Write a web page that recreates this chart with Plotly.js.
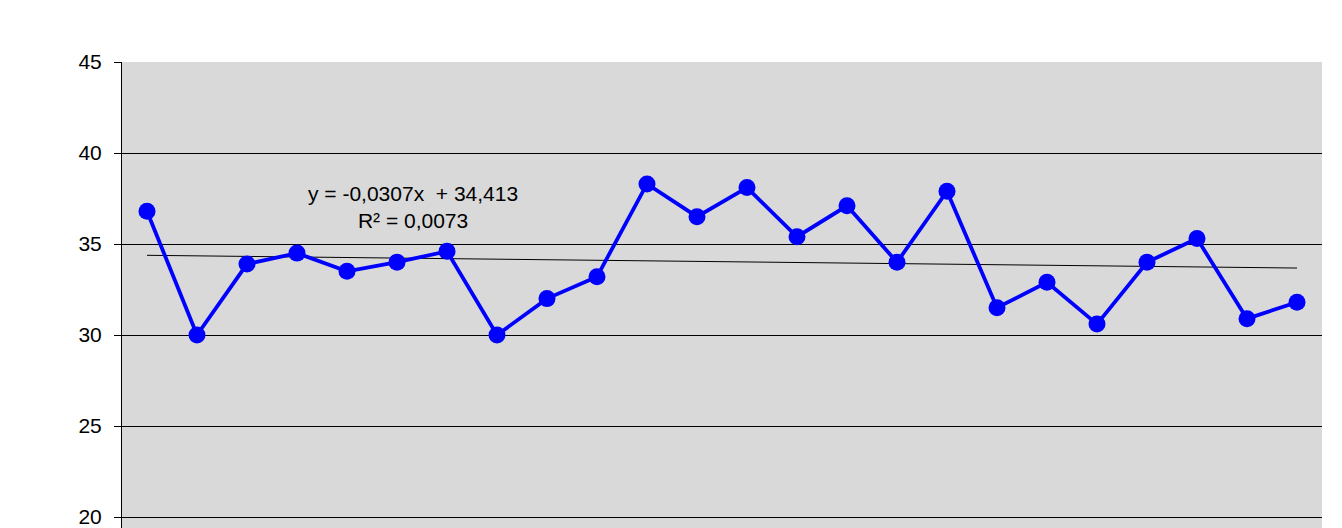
<!DOCTYPE html>
<html>
<head>
<meta charset="utf-8">
<script src="https://cdn.plot.ly/plotly-3.0.1.min.js"></script>
<style>
html,body{margin:0;padding:0;overflow:hidden;background:#fff;}
#chart{width:1342px;height:600px;}
</style>
</head>
<body>
<div id="chart"></div>
<script>
const categories = [1,2,3,4,5,6,7,8,9,10,11,12,13,14,15,16,17,18,19,20,21,22,23,24];
const values = [36.8,30.0,33.9,34.5,33.5,34.0,34.6,30.0,32.0,33.2,38.3,36.5,38.1,35.4,37.1,34.0,37.9,31.5,32.9,30.6,34.0,35.3,30.9,31.8];
const trendX = [1,24];
const trendY = [34.38,33.68];
const yTicks = [20,25,30,35,40,45];
const trendLabel = "y = -0,0307x  + 34,413<br>R² = 0,0073";

const data = [
  {x: trendX, y: trendY, type:'scatter', mode:'lines', line:{color:'#000000', width:1}, hoverinfo:'skip'},
  {x: categories, y: values, type:'scatter', mode:'lines+markers',
   line:{color:'#0000FF', width:3.8}, marker:{color:'#0000FF', size:17}}
];
const layout = {
  width:1342, height:600,
  margin:{l:122, r:20, t:62, b:40},
  paper_bgcolor:'#ffffff', plot_bgcolor:'#D9D9D9',
  showlegend:false,
  font:{family:'Arial, "Liberation Sans", sans-serif', color:'#000', size:20},
  xaxis:{range:[0.5,24.5], showgrid:false, zeroline:false, showticklabels:false, ticks:'', showline:false, fixedrange:true},
  yaxis:{range:[17.64,45], tickvals:yTicks, ticktext:yTicks.map(String), showgrid:true, gridcolor:'#000000', gridwidth:1,
         zeroline:false, showline:true, linecolor:'#000000', linewidth:1, ticks:'outside', ticklen:7, tickcolor:'#000', tickwidth:1,
         tickfont:{size:21, color:'#000'}, ticklabelstandoff:8},
  annotations:[{x:6.32, y:37.03, xref:'x', yref:'y', text:trendLabel, showarrow:false,
    font:{size:21, color:'#000', family:'Arial, "Liberation Sans", sans-serif'}, align:'center'}]
};
Plotly.newPlot('chart', data, layout, {displayModeBar:false, staticPlot:true});
</script>
</body>
</html>
